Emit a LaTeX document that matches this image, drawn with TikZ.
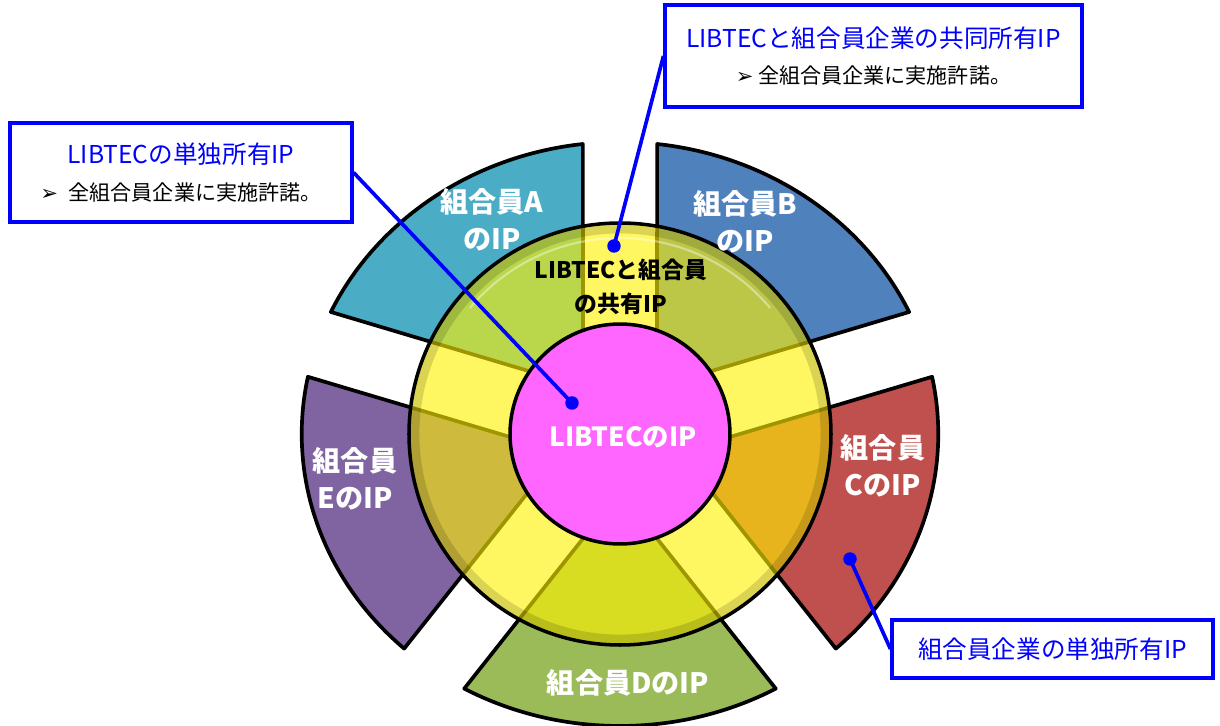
\documentclass[tikz,border=0pt]{standalone}
\usepackage{fontspec}
\setmainfont{Noto Sans CJK JP}
\newfontfamily\symfont{DejaVu Sans}

\definecolor{memA}{RGB}{75,172,198}
\definecolor{memB}{RGB}{79,129,189}
\definecolor{memC}{RGB}{192,80,77}
\definecolor{memD}{RGB}{155,187,89}
\definecolor{memE}{RGB}{128,100,162}
\definecolor{libpink}{RGB}{255,102,255}

\begin{document}
\begin{tikzpicture}
  [x=0.02cm, y=0.02cm,
   part/.style={draw=black, line width=2.1pt, line join=round},
   seglabel/.style={text=white, font=\bfseries\fontsize{16}{21}\selectfont, align=center},
   callout/.style={draw=blue, line width=1.8pt, fill=white, align=center, inner sep=0pt},
   pin/.style={circle, fill=blue, inner sep=0pt, minimum size=0.27cm},
   leader/.style={blue, line width=2.1pt}]

  \useasboundingbox (-620,-292) rectangle (600,434);

  % member wedges
  \begin{scope}[xscale=1.09]
    \foreach \ang/\col in {126/memA, 54/memB, -18/memC, -90/memD, 198/memE}
      \draw[part, fill=\col] (\ang:57.8) -- ({\ang-29.3}:292)
        arc[start angle={\ang-29.3}, end angle={\ang+29.3}, radius=292] -- cycle;
  \end{scope}

  % shared ring
  \fill[yellow, fill opacity=0.62] (0,0) circle (211);
  \draw[black, opacity=0.14, line width=5pt] (0,0) circle (205);
  \draw[white, opacity=0.4, line width=1.2pt] (40:196) arc[start angle=40, end angle=140, radius=196];
  \draw[black, line width=2pt] (0,0) circle (211);

  % LIBTEC core
  \node[circle, draw=black, line width=2pt, fill=libpink, minimum size=4.4cm] (core) at (0,0) {};

  % labels
  \node[seglabel] (labA) at (-128,214) {組合員A\\のIP};
  \node[seglabel] (labB) at (125,212) {組合員B\\のIP};
  \node[seglabel] (labC) at (263,-32) {組合員\\CのIP};
  \node[seglabel] (labD) at (8,-249) {組合員DのIP};
  \node[seglabel] (labE) at (-265,-45) {組合員\\EのIP};
  \node[font=\bfseries\fontsize{13}{19}\selectfont, align=center] (labjoint) at (1,147) {LIBTECと組合員\\の共有IP};
  \node[text=white, font=\bfseries\fontsize{15}{18}\selectfont] (labcore) at (3,-3) {LIBTECのIP};

  % callouts
  \node[callout, minimum width=8.34cm, minimum height=2.04cm] (jointbox) at (253.5,378)
    {\textcolor{blue}{\fontsize{14}{16}\selectfont LIBTECと組合員企業の共同所有IP}\\[0.3cm]
     {\fontsize{12}{14}\selectfont{\symfont ➢} 全組合員企業に実施許諾。}};
  \node[callout, minimum width=6.84cm, minimum height=1.98cm] (solebox) at (-439,261.5)
    {\textcolor{blue}{\fontsize{14}{16}\selectfont LIBTECの単独所有IP}\\[0.3cm]
     {\fontsize{12}{14}\selectfont{\symfont ➢}\enspace 全組合員企業に実施許諾。}};
  \node[callout, minimum width=6.42cm, minimum height=1.16cm] (memberbox) at (432.5,-215)
    {\textcolor{blue}{\fontsize{14}{16}\selectfont 組合員企業の単独所有IP}};

  % pins and leaders
  \node[pin] (pinjoint) at (-6,188) {};
  \node[pin] (pinsole) at (-48,31) {};
  \node[pin] (pinmember) at (230,-125) {};
  \draw[leader] (pinjoint.center) -- (jointbox.west);
  \draw[leader] (pinsole.center) -- (solebox.east);
  \draw[leader] (pinmember.center) -- (memberbox.west);
\end{tikzpicture}
\end{document}
